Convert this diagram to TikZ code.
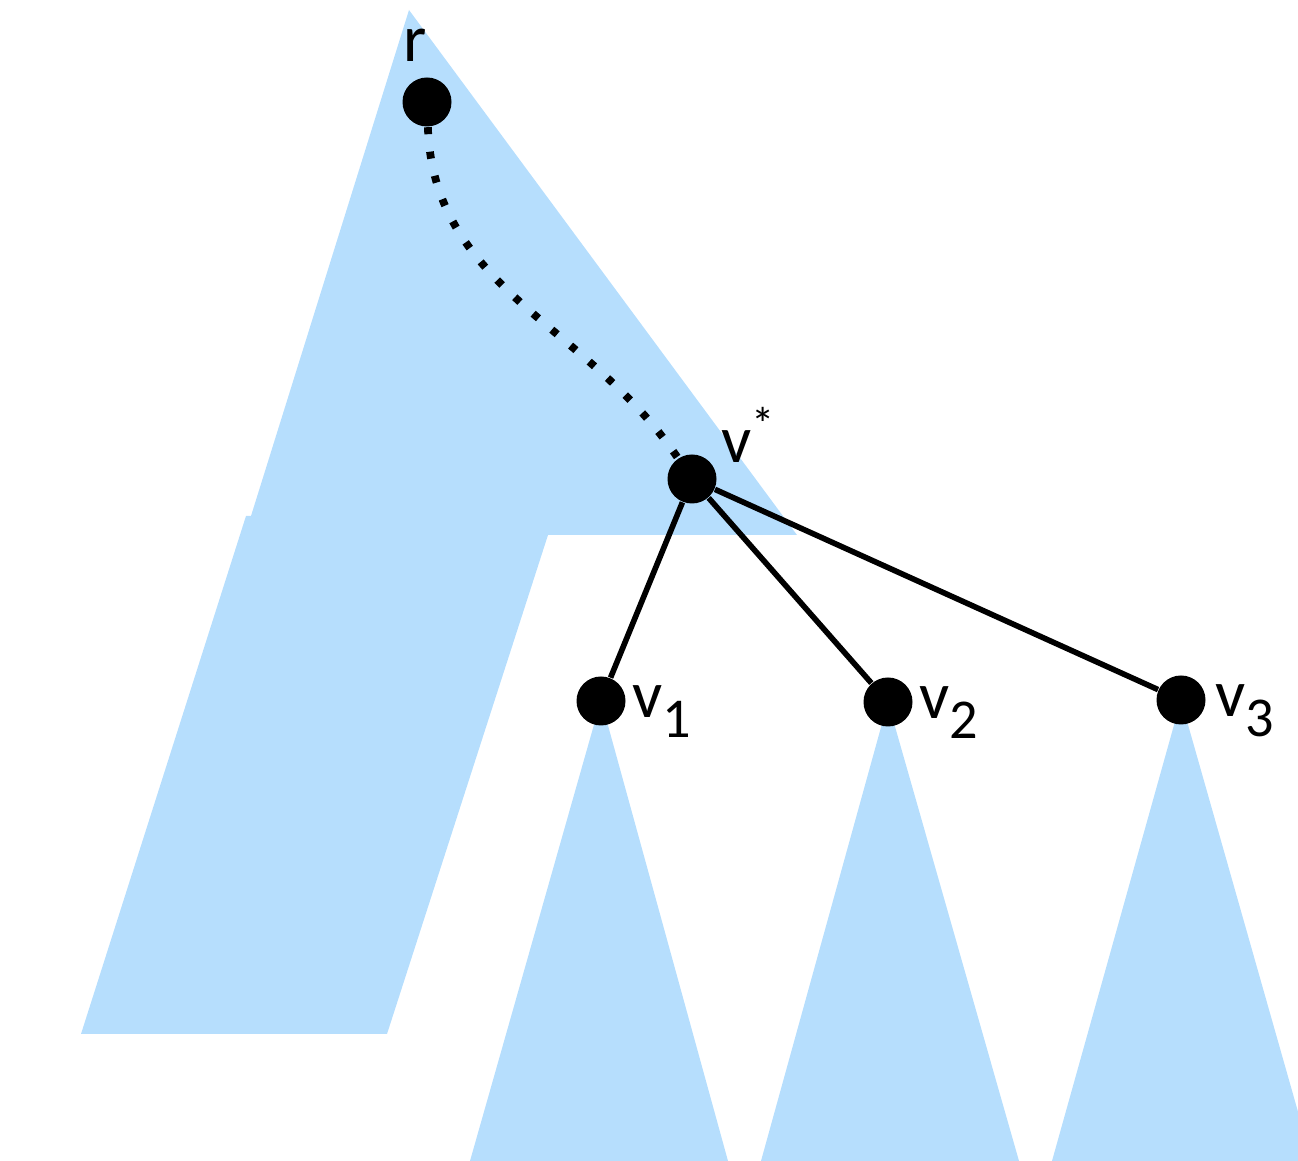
\documentclass[tikz,border=0pt]{standalone}
\usepackage{fontspec}
\setmainfont{Carlito}
\usepackage{xcolor}
\usetikzlibrary{positioning}
\definecolor{treeblue}{RGB}{182,222,253}
\newcommand{\lowsub}[1]{\raisebox{-5.5pt}{\fontsize{16}{18}\selectfont #1}}

\begin{document}
\begin{tikzpicture}[
  every node/.style={font=\fontsize{19}{22}\selectfont},
  vertex/.style={circle, fill=black, inner sep=0pt, minimum size=0.49cm},
  lbl/.style={inner sep=0pt, anchor=base west},
  edge/.style={line width=1.6pt},
  path/.style={line width=2.2pt, dash pattern=on 2pt off 5pt},
  subtree/.style={fill=treeblue, draw=none},
]
\useasboundingbox (0,0) rectangle (12.98,-11.61);

%% -- Shaded regions -----------------------------------------------------------
\fill[subtree] (4.09,-0.10) -- (7.97,-5.35) -- (5.48,-5.35) -- (3.87,-10.34)
  -- (0.81,-10.34) -- (2.46,-5.16) -- (2.51,-5.16) -- cycle;
\fill[subtree] (6.01,-7.00) -- (7.28,-11.61) -- (4.70,-11.61) -- cycle;
\fill[subtree] (8.88,-7.02) -- (10.19,-11.61) -- (7.61,-11.61) -- cycle;
\fill[subtree] (11.81,-7.00) -- (13.12,-11.61) -- (10.52,-11.61) -- cycle;

%% -- Vertices -----------------------------------------------------------------
\node[vertex] (r)     at (4.27,-1.02) {};
\node[vertex] (vstar) at (6.92,-4.79) {};
\node[vertex] (v1)    at (6.01,-7.01) {};
\node[vertex] (v2)    at (8.88,-7.02) {};
\node[vertex] (v3)    at (11.81,-7.00) {};

\node[lbl] (rlbl)     at (4.03,-0.62) {r};
\node[lbl] (vstarlbl) at (7.21,-4.63) {v\textsuperscript{*}};
\node[lbl] (v1lbl)    at (6.32,-7.18) {v\lowsub{1}};
\node[lbl] (v2lbl)    at (9.19,-7.19) {v\lowsub{2}};
\node[lbl] (v3lbl)    at (12.15,-7.17) {v\lowsub{3}};

%% -- Connectors ---------------------------------------------------------------
\draw[path] (r) to[out=-88, in=124] (vstar);
\draw[edge] (vstar) -- (v1);
\draw[edge] (vstar) -- (v2);
\draw[edge] (vstar) -- (v3);

\end{tikzpicture}
\end{document}
